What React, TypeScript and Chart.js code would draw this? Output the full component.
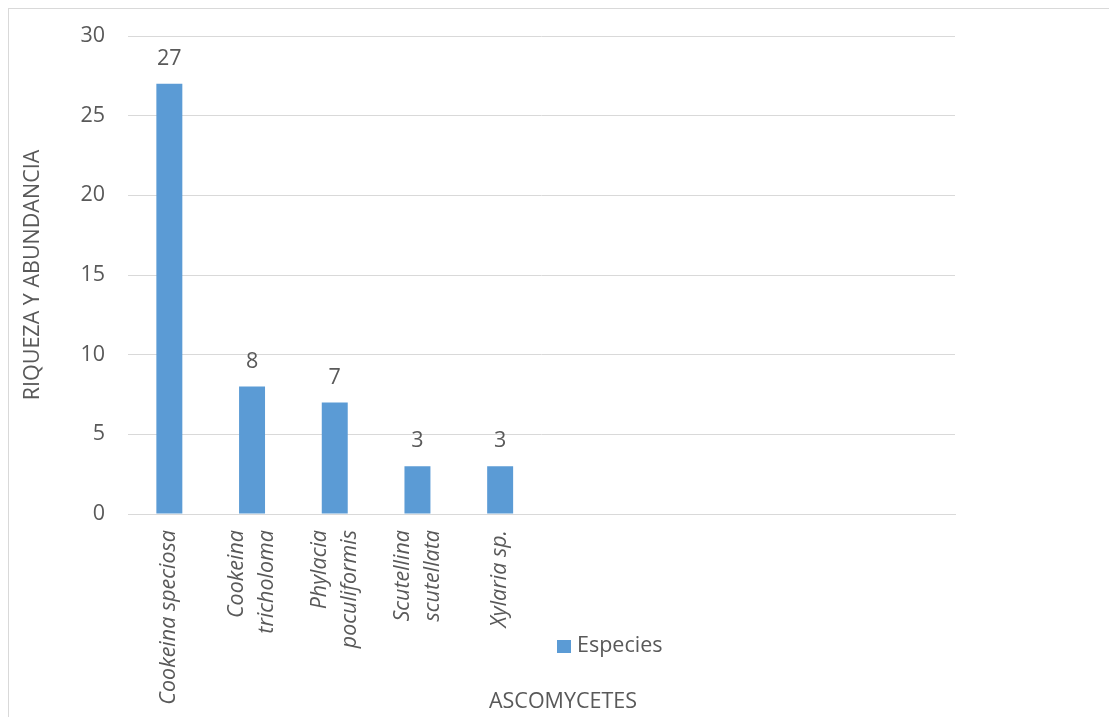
import React, { useEffect, useRef } from "react";
import { Chart, registerables } from "chart.js";

Chart.register(...registerables);

const categories: (string | string[])[] = [
  "Cookeina speciosa",
  ["Cookeina", "tricholoma"],
  ["Phylacia", "poculiformis"],
  ["Scutellina", "scutellata"],
  "Xylaria sp.",
  "",
  "",
  "",
  "",
  "",
];
const especies: (number | null)[] = [27, 8, 7, 3, 3, null, null, null, null, null];
const yTicks = [0, 5, 10, 15, 20, 25, 30];
const seriesName = "Especies";
const xTitle = "ASCOMYCETES";
const yTitle = "RIQUEZA Y ABUNDANCIA";

const FONT = "'Open Sans', 'Noto Sans', sans-serif";
const FS = 21.5;
const TEXT = "#595959";
const GRID = "#d9d9d9";
const BAR = "#5b9bd5";

export default function App() {
  const ref = useRef<HTMLCanvasElement | null>(null);

  useEffect(() => {
    if (!ref.current) return;
    const overlay = {
      id: "overlay",
      afterDatasetsDraw(chart: any) {
        const ctx = chart.ctx;
        ctx.save();
        ctx.fillStyle = TEXT;
        ctx.font = `${FS}px ${FONT}`;
        ctx.textAlign = "center";
        ctx.textBaseline = "middle";
        const meta = chart.getDatasetMeta(0);
        meta.data.forEach((el: any, i: number) => {
          const v = especies[i];
          if (v === null || v === undefined) return;
          ctx.fillText(String(v), el.x, el.y - 25);
        });
        ctx.restore();
      },
      afterDraw(chart: any) {
        const ctx = chart.ctx;
        const area = chart.chartArea;
        const xs = chart.scales.x;
        ctx.save();
        ctx.fillStyle = TEXT;
        // category labels (rotated, multi-line centred on tick)
        ctx.font = `italic ${FS}px ${FONT}`;
        ctx.textAlign = "right";
        ctx.textBaseline = "middle";
        const lineH = 30;
        categories.forEach((lab, i) => {
          const lines = Array.isArray(lab) ? lab : [lab];
          if (!lines.join("")) return;
          const tx = xs.getPixelForTick(i);
          lines.forEach((ln, j) => {
            const x = tx + (j - (lines.length - 1) / 2) * lineH;
            ctx.save();
            ctx.translate(x, area.bottom + 16);
            ctx.rotate(-Math.PI / 2);
            ctx.fillText(ln, 0, 0);
            ctx.restore();
          });
        });
        ctx.font = `${FS}px ${FONT}`;
        // y title
        ctx.save();
        ctx.translate(24, (area.top + area.bottom) / 2);
        ctx.rotate(-Math.PI / 2);
        ctx.textAlign = "center";
        ctx.fillText(yTitle, 0, 0);
        ctx.restore();
        // x title
        ctx.textAlign = "center";
        ctx.fillText(xTitle, 554, 693);
        // legend
        ctx.fillStyle = BAR;
        ctx.fillRect(548, 631, 14, 13);
        ctx.fillStyle = TEXT;
        ctx.textAlign = "left";
        ctx.fillText(seriesName, 568, 637);
        ctx.restore();
      },
    };

    const chart = new Chart(ref.current, {
      type: "bar",
      data: {
        labels: categories,
        datasets: [
          {
            label: seriesName,
            data: especies,
            backgroundColor: BAR,
            borderWidth: 0,
            categoryPercentage: 1,
            barPercentage: 0.314,
          },
        ],
      },
      options: {
        responsive: false,
        animation: false,
        layout: { padding: { top: 27, right: 162, bottom: 0, left: 0 } },
        plugins: {
          legend: { display: false },
          tooltip: { enabled: false },
        },
        scales: {
          x: {
            grid: { display: false, drawTicks: false },
            border: { display: true, color: GRID, width: 1 },
            ticks: { display: false },
            afterFit(scale: any) {
              scale.height = 203;
              scale.paddingLeft = 0;
              scale.paddingRight = 0;
            },
          },
          y: {
            min: 0,
            max: 30,
            afterBuildTicks(scale: any) {
              scale.ticks = yTicks.map((v) => ({ value: v }));
            },
            grid: { color: GRID, lineWidth: 1, drawTicks: false },
            border: { display: false },
            ticks: {
              padding: 23,
              color: TEXT,
              font: { family: FONT, size: FS },
            },
            afterFit(scale: any) {
              scale.width = 119;
              scale.paddingTop = 0;
              scale.paddingBottom = 0;
            },
          },
        },
      },
      plugins: [overlay],
    });
    return () => chart.destroy();
  }, []);

  return (
    <div
      style={{
        position: "relative",
        width: 1109,
        height: 709,
        borderLeft: "1px solid #d9d9d9",
        borderTop: "1px solid #d9d9d9",
        boxSizing: "border-box",
        overflow: "hidden",
      }}
    >
      <canvas ref={ref} width={1108} height={708} style={{ display: "block" }} />
    </div>
  );
}
